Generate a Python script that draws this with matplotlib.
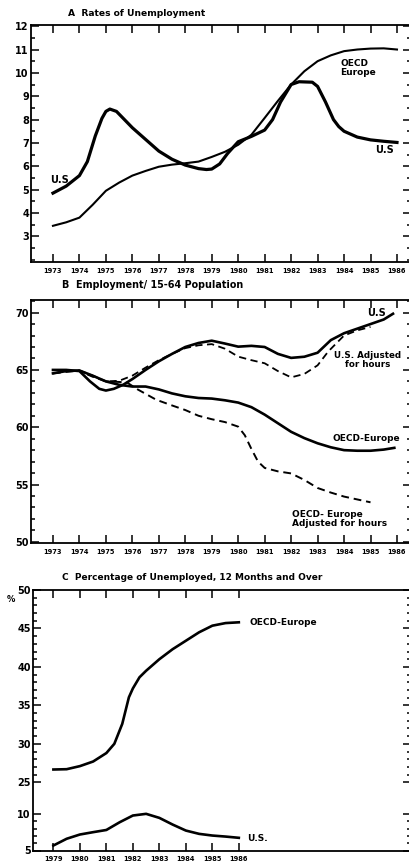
import matplotlib
matplotlib.use("Agg")
import matplotlib.pyplot as plt
from matplotlib.ticker import FixedLocator, MultipleLocator
import numpy as np

plt.rcParams['font.family'] = ['DejaVu Sans']
plt.rcParams['font.weight'] = 'bold'

# ---- panel A: rates of unemployment
a_us_yr = [1973.0, 1973.5, 1974.0, 1974.3, 1974.6, 1974.85, 1975.0, 1975.15, 1975.4, 1976.0,
           1976.5, 1977.0, 1977.5, 1978.0, 1978.5, 1978.8, 1979.0, 1979.3, 1979.6, 1980.0,
           1980.5, 1981.0, 1981.3, 1981.6, 1982.0, 1982.3, 1982.8, 1983.0, 1983.3, 1983.6,
           1983.8, 1984.0, 1984.5, 1985.0, 1985.5, 1986.0]
a_us = [4.85, 5.15, 5.6, 6.2, 7.3, 8.05, 8.35, 8.45, 8.35, 7.65,
        7.15, 6.65, 6.3, 6.05, 5.9, 5.86, 5.88, 6.1, 6.55, 7.05,
        7.28, 7.55, 8.0, 8.75, 9.5, 9.62, 9.6, 9.42, 8.75, 8.0,
        7.7, 7.5, 7.25, 7.13, 7.07, 7.02]
a_eu_yr = [1973.0, 1973.5, 1974.0, 1974.5, 1975.0, 1975.5, 1976.0, 1976.5, 1977.0, 1977.5,
           1978.0, 1978.5, 1979.0, 1979.5, 1980.0, 1980.5, 1981.0, 1981.5, 1982.0, 1982.5,
           1983.0, 1983.5, 1984.0, 1984.5, 1985.0, 1985.5, 1986.0]
a_eu = [3.45, 3.6, 3.8, 4.35, 4.95, 5.3, 5.6, 5.8, 5.98, 6.07,
        6.13, 6.2, 6.4, 6.62, 6.92, 7.35, 8.07, 8.8, 9.5, 10.07,
        10.5, 10.75, 10.93, 11.0, 11.04, 11.05, 11.0]

# ---- panel B: employment / 15-64 population
b_us_yr = [1973.0, 1973.5, 1974.0, 1974.4, 1974.75, 1975.0, 1975.3, 1975.65, 1976.0, 1976.5,
           1977.0, 1977.5, 1978.0, 1978.5, 1979.0, 1979.5, 1980.0, 1980.5, 1981.0, 1981.5,
           1982.0, 1982.5, 1983.0, 1983.5, 1984.0, 1984.5, 1985.0, 1985.5, 1985.85]
b_us = [65.0, 65.0, 64.9, 64.0, 63.35, 63.2, 63.35, 63.7, 64.2, 65.0,
        65.75, 66.4, 67.0, 67.35, 67.55, 67.3, 67.03, 67.1, 67.0, 66.4,
        66.05, 66.15, 66.5, 67.6, 68.2, 68.6, 69.0, 69.4, 69.9]
b_us_adj_yr = [1973.0, 1973.5, 1974.0, 1974.5, 1975.0, 1975.5, 1976.0, 1976.5, 1977.0, 1977.5,
               1978.0, 1978.5, 1979.0, 1979.5, 1980.0, 1980.5, 1981.0, 1981.5, 1982.0, 1982.5,
               1983.0, 1983.4, 1984.0, 1984.5, 1985.0]
b_us_adj = [64.7, 64.9, 64.9, 64.4, 64.0, 64.05, 64.5, 65.2, 65.85, 66.4,
            66.9, 67.15, 67.25, 66.85, 66.16, 65.85, 65.58, 64.9, 64.35, 64.65,
            65.4, 66.6, 68.0, 68.45, 68.75]
b_eu_yr = [1973.0, 1973.5, 1974.0, 1974.5, 1975.0, 1975.5, 1976.0, 1976.5, 1977.0, 1977.5,
           1978.0, 1978.5, 1979.0, 1979.5, 1980.0, 1980.5, 1981.0, 1981.5, 1982.0, 1982.5,
           1983.0, 1983.5, 1984.0, 1984.5, 1985.0, 1985.5, 1985.9]
b_eu = [64.7, 64.9, 64.95, 64.5, 64.0, 63.7, 63.55, 63.55, 63.3, 62.95,
        62.7, 62.55, 62.5, 62.35, 62.15, 61.75, 61.1, 60.35, 59.6, 59.05,
        58.6, 58.25, 58.0, 57.95, 57.95, 58.05, 58.2]
b_eu_adj_yr = [1973.0, 1974.0, 1974.5, 1975.0, 1975.5, 1975.8, 1976.2, 1976.9, 1977.5, 1978.0,
               1978.5, 1979.0, 1979.5, 1980.0, 1980.25, 1980.5, 1980.75, 1981.0, 1981.5, 1982.0,
               1982.5, 1983.0, 1983.5, 1984.0, 1984.5, 1985.0]
b_eu_adj = [64.7, 64.95, 64.5, 64.0, 63.95, 63.9, 63.3, 62.4, 61.9, 61.5,
            61.0, 60.7, 60.45, 60.05, 59.3, 58.1, 57.0, 56.45, 56.15, 55.97,
            55.4, 54.7, 54.3, 53.95, 53.7, 53.45]

# ---- panel C: unemployed 12 months and over
c_yr = [1979.0, 1979.5, 1980.0, 1980.5, 1981.0, 1981.3, 1981.6, 1981.85, 1982.0, 1982.25,
        1982.5, 1983.0, 1983.5, 1984.0, 1984.5, 1985.0, 1985.5, 1986.0]
c_eu = [26.66, 26.7, 27.1, 27.7, 28.8, 30.0, 32.6, 36.05, 37.2, 38.65,
        39.5, 41.0, 42.3, 43.4, 44.5, 45.36, 45.7, 45.8]
c_us_yr = [1979.0, 1979.5, 1980.0, 1980.5, 1981.0, 1981.5, 1982.0, 1982.5, 1983.0, 1983.5,
           1984.0, 1984.5, 1985.0, 1985.5, 1986.0]
c_us = [5.68, 6.6, 7.18, 7.5, 7.8, 8.85, 9.77, 10.0, 9.45, 8.54,
        7.72, 7.27, 7.04, 6.9, 6.73]

years_ab = list(range(1973, 1987))
years_c = list(range(1979, 1987))

W, H = 409, 866
fig = plt.figure(figsize=(W / 100, H / 100), dpi=100)


def box(l, t, r, b):
    return [l / W, 1 - b / H, (r - l) / W, (b - t) / H]


def style(ax, xt, yt, ymin_loc):
    ax.xaxis.set_major_locator(FixedLocator(xt))
    ax.set_xticklabels([str(y) for y in xt], fontsize=4.8, fontweight='bold')
    ax.yaxis.set_major_locator(FixedLocator(yt))
    ax.yaxis.set_minor_locator(ymin_loc)
    ax.tick_params(which='both', direction='in', top=True, right=True, width=1.1)
    ax.tick_params(which='major', length=6)
    ax.tick_params(which='minor', length=3)
    ax.tick_params(axis='x', pad=4)
    ax.tick_params(axis='y', labelsize=7, pad=1.5)
    for s in ax.spines.values():
        s.set_linewidth(1.3)


# panel A
axA = fig.add_axes(box(31, 25, 411, 262))
axA.plot(a_us_yr, a_us, color='black', lw=2.3, solid_joinstyle='round')
axA.plot(a_eu_yr, a_eu, color='black', lw=1.5, solid_joinstyle='round')
axA.set_xlim(1972.17, 1986.53)
axA.set_ylim(1.9, 12.05)
style(axA, years_ab, list(range(3, 13)), MultipleLocator(0.5))
axA.text(1972.88, 5.4, 'U.S', fontsize=7, va='center', ha='left')
axA.text(1983.85, 10.2, 'OECD\nEurope', fontsize=6.5, va='center', ha='left', linespacing=1.0)
axA.text(1985.17, 6.7, 'U.S', fontsize=7, va='center', ha='left')
fig.text(68 / W, 1 - 14 / H, 'A  Rates of Unemployment', fontsize=6.6, va='center', ha='left')

# panel B
axB = fig.add_axes(box(31, 300, 411, 543))
axB.plot(b_us_yr, b_us, color='black', lw=1.9, solid_joinstyle='round')
axB.plot(b_us_adj_yr, b_us_adj, color='black', lw=1.3, ls=(0, (4, 2.5)))
axB.plot(b_eu_yr, b_eu, color='black', lw=1.9, solid_joinstyle='round')
axB.plot(b_eu_adj_yr, b_eu_adj, color='black', lw=1.4, ls=(0, (4, 2.5)))
axB.set_xlim(1972.17, 1986.53)
axB.set_ylim(49.9, 71.1)
style(axB, years_ab, [50, 55, 60, 65, 70], MultipleLocator(1))
axB.text(1984.87, 70.0, 'U.S', fontsize=7, va='center', ha='left')
axB.text(1984.9, 65.87, 'U.S. Adjusted\nfor hours', fontsize=6.3, va='center', ha='center', linespacing=1.0)
axB.text(1984.83, 59.05, 'OECD-Europe', fontsize=6.5, va='center', ha='center')
axB.text(1982.03, 52.03, 'OECD- Europe\nAdjusted for hours', fontsize=6.5, va='center', ha='left', linespacing=1.0)
fig.text(62 / W, 1 - 285 / H, 'B  Employment/ 15-64 Population', fontsize=6.9, va='center', ha='left')


# panel C, with a break in the axis between 10 and 25
def fwd(v):
    v = np.asarray(v, dtype=float)
    return np.where(v <= 10, (v - 5) * 7.34,
                    np.where(v <= 25, 36.7 + (v - 10) * (31.6 / 15), 68.3 + (v - 25) * 7.7))


def inv(p):
    p = np.asarray(p, dtype=float)
    return np.where(p <= 36.7, 5 + p / 7.34,
                    np.where(p <= 68.3, 10 + (p - 36.7) * (15 / 31.6), 25 + (p - 68.3) / 7.7))


axC = fig.add_axes(box(33, 590, 411, 850.5))
axC.set_yscale('function', functions=(fwd, inv))
axC.plot(c_yr, c_eu, color='black', lw=1.9, solid_joinstyle='round')
axC.plot(c_us_yr, c_us, color='black', lw=1.9, solid_joinstyle='round')
axC.set_xlim(1978.23, 1992.5)
axC.set_ylim(5, 50)
minor_c = [6, 7, 8, 9] + [v for v in range(26, 50) if v % 5]
style(axC, years_c, [5, 10, 25, 30, 35, 40, 45, 50], FixedLocator(minor_c))
axC.text(1986.42, 45.75, 'OECD-Europe', fontsize=6.5, va='center', ha='left')
axC.text(1986.3, 6.6, 'U.S.', fontsize=6.5, va='center', ha='left')
fig.text(62 / W, 1 - 577 / H, 'C  Percentage of Unemployed, 12 Months and Over', fontsize=6.5, va='center', ha='left')
fig.text(11 / W, 1 - 600 / H, '%', fontsize=6, va='center', ha='center')

fig.savefig('out.png', dpi=100)
